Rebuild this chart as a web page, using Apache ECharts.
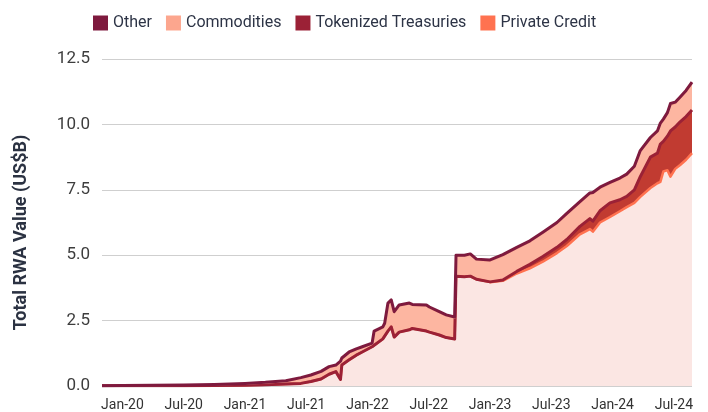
<!DOCTYPE html>
<html>
<head>
<meta charset="utf-8">
<script src="https://cdn.jsdelivr.net/npm/echarts@6/dist/echarts.min.js"></script>
<style>
  html, body { margin: 0; padding: 0; background: #ffffff; }
  #chart { width: 708px; height: 412px; }
</style>
</head>
<body>
<div id="chart"></div>
<script>
// Observation dates (irregular sampling, denser around jumps)
const dates = [
  '2019-11-01','2020-01-01','2020-04-01','2020-07-01','2020-10-01','2021-01-01',
  '2021-03-01','2021-05-01','2021-06-15','2021-07-15','2021-08-15','2021-09-08',
  '2021-09-28','2021-10-12','2021-10-16','2021-11-07','2021-11-28','2021-12-16',
  '2022-01-15','2022-01-21','2022-02-15','2022-02-20','2022-03-01','2022-03-11',
  '2022-03-20','2022-04-04','2022-05-04','2022-05-13','2022-06-24','2022-07-03',
  '2022-08-02','2022-08-23','2022-09-17','2022-09-21','2022-10-16','2022-11-03',
  '2022-11-21','2023-01-01','2023-02-08','2023-03-20','2023-04-28','2023-06-06',
  '2023-07-18','2023-08-17','2023-09-25','2023-10-25','2023-11-03','2023-11-24',
  '2023-12-24','2024-01-23','2024-02-12','2024-03-05','2024-03-23','2024-04-22',
  '2024-05-13','2024-05-22','2024-05-31','2024-06-12','2024-06-21','2024-07-05',
  '2024-07-20','2024-08-07','2024-08-25'
];

// Values in US$ billions, stacked bottom to top
const privateCredit = [
  0.005,0.008,0.01,0.012,0.018,0.03,
  0.05,0.08,0.10,0.17,0.27,0.45,
  0.55,0.25,0.80,1.00,1.18,1.30,
  1.50,1.55,1.80,1.87,2.10,2.26,
  1.87,2.06,2.15,2.20,2.10,2.06,
  1.95,1.85,1.80,4.20,4.18,4.20,
  4.08,3.97,4.02,4.30,4.50,4.75,
  5.08,5.35,5.80,6.00,5.90,6.25,
  6.46,6.68,6.84,7.00,7.23,7.57,
  7.75,7.80,8.20,8.25,8.00,8.30,
  8.45,8.65,8.90
];
const tokenizedTreasuries = [
  0,0,0,0,0,0,
  0,0,0,0,0,0,
  0,0,0,0,0,0,
  0,0,0,0,0,0,
  0,0,0,0,0,0,
  0,0,0,0,0,0,
  0,0.01,0.03,0.08,0.15,0.20,
  0.22,0.25,0.30,0.40,0.40,0.45,
  0.54,0.44,0.41,0.50,0.77,1.18,
  1.15,1.45,1.15,1.30,1.75,1.60,
  1.65,1.65,1.65
];
const commodities = [
  0.002,0.007,0.012,0.018,0.027,0.05,
  0.065,0.09,0.19,0.215,0.255,0.25,
  0.21,0.66,0.23,0.26,0.20,0.16,
  0.10,0.51,0.42,0.49,1.03,0.99,
  0.93,1.00,0.98,0.88,0.96,0.92,
  0.85,0.83,0.80,0.76,0.78,0.81,
  0.73,0.80,0.92,0.87,0.85,0.88,
  0.90,0.95,0.90,0.93,1.05,0.85,
  0.73,0.78,0.80,0.85,0.94,0.69,
  0.79,0.74,0.79,0.84,0.99,0.89,
  0.89,0.94,1.01
];
const other = [
  0.003,0.005,0.008,0.01,0.015,0.02,
  0.025,0.03,0.03,0.035,0.035,0.04,
  0.04,0.04,0.04,0.04,0.04,0.04,
  0.04,0.04,0.04,0.04,0.04,0.04,
  0.04,0.04,0.04,0.04,0.04,0.04,
  0.04,0.04,0.04,0.04,0.04,0.04,
  0.04,0.04,0.05,0.05,0.05,0.05,
  0.05,0.05,0.05,0.05,0.05,0.05,
  0.05,0.05,0.05,0.05,0.06,0.06,
  0.06,0.06,0.06,0.06,0.06,0.06,
  0.06,0.06,0.06
];

// x-axis tick labels and their positions (months since Jan 2020)
const tickLabels = ['Jan-20','Jul-20','Jan-21','Jul-21','Jan-22','Jul-22','Jan-23','Jul-23','Jan-24','Jul-24'];
const tickMonths = [0, 6, 12, 18, 24, 30, 36, 42, 48, 54];

// Fractional months elapsed since 2020-01-01
function monthIndex(s) {
  const [y, m, d] = s.split('-').map(Number);
  const daysInMonth = new Date(y, m, 0).getDate();
  return (y - 2020) * 12 + (m - 1) + (d - 1) / daysInMonth;
}
const xs = dates.map(monthIndex);

const FONT = 'Roboto, "Noto Sans", sans-serif';

// Layers from the bottom of the stack upwards
const layers = [
  { name: 'Private Credit',       values: privateCredit,       fill: '#fbe6e3', line: '#ff7250', width: 2.5, key: '#ff7250' },
  { name: 'Tokenized Treasuries', values: tokenizedTreasuries, fill: '#c13b31', line: '#9b2136', width: 3,   key: '#9b2136' },
  { name: 'Commodities',          values: commodities,         fill: '#fdb6a1', line: '#fca68e', width: 1.5, key: '#fca68e' },
  { name: 'Other',                values: other,               fill: '#7e1a3e', line: '#7e1a3e', width: 3,   key: '#7e1a3e' }
];

// Running totals: top edge of each layer
let running = xs.map(() => 0);
layers.forEach(l => {
  running = running.map((s, i) => s + l.values[i]);
  l.top = running.slice();
});

const series = [];
// Bands: each layer filled from zero to its top edge, highest first so lower layers paint over
layers.slice().reverse().forEach(l => series.push({
  name: l.name, type: 'line', data: l.top.map((v, i) => [xs[i], v]),
  symbol: 'none', lineStyle: { width: 0 }, itemStyle: { color: l.key },
  areaStyle: { color: l.fill, opacity: 1, origin: 'start' }, silent: true
}));
// Edge lines above all bands, bottom layer first
layers.forEach(l => series.push({
  name: l.name, type: 'line', data: l.top.map((v, i) => [xs[i], v]),
  symbol: 'none', lineStyle: { width: l.width, color: l.line, join: 'round' },
  itemStyle: { color: l.key }, silent: true
}));

const chart = echarts.init(document.getElementById('chart'), null, { renderer: 'canvas' });
chart.setOption({
  animation: false,
  backgroundColor: '#ffffff',
  textStyle: { fontFamily: FONT },
  legend: {
    left: 88, top: 10,
    itemWidth: 15, itemHeight: 15, itemGap: 14,
    icon: 'rect',
    textStyle: { fontSize: 16, color: '#2d3446', fontFamily: FONT },
    data: ['Other', 'Commodities', 'Tokenized Treasuries', 'Private Credit'].map(n => ({
      name: n, icon: 'rect',
      itemStyle: { color: layers.find(l => l.name === n).key }
    }))
  },
  grid: { left: 102, right: 16, top: 59, bottom: 26, containLabel: false },
  xAxis: {
    type: 'value',
    min: xs[0], max: xs[xs.length - 1],
    splitLine: { show: false },
    axisLine: { show: false },
    axisTick: { show: false },
    axisLabel: {
      customValues: tickMonths,
      formatter: v => tickLabels[tickMonths.indexOf(Math.round(v))] || '',
      fontSize: 14, color: '#333333', margin: 12, fontFamily: FONT
    }
  },
  yAxis: {
    type: 'value',
    min: 0, max: 12.5, interval: 2.5,
    name: 'Total RWA Value (US$B)',
    nameLocation: 'middle', nameRotate: 90, nameGap: 72,
    nameTextStyle: { fontSize: 18, fontWeight: 'bold', color: '#2b3242', fontFamily: FONT, padding: [0, 20, 0, 0] },
    axisLine: { show: false },
    axisTick: { show: false },
    axisLabel: {
      formatter: v => v.toFixed(1),
      fontSize: 17, color: '#3d3d3d', margin: 12, fontFamily: FONT
    },
    splitLine: { lineStyle: { color: '#cfcfcf', width: 1 } }
  },
  series
});
</script>
</body>
</html>
